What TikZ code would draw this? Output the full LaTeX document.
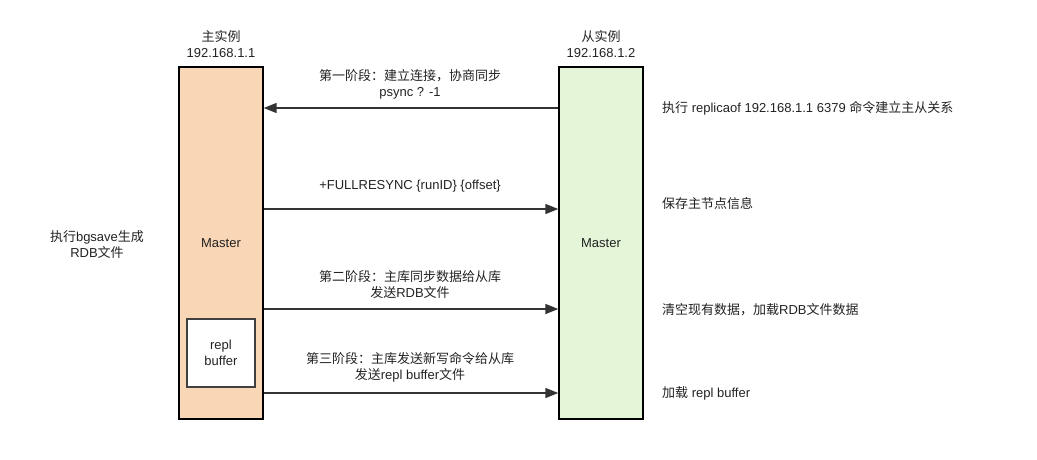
\documentclass[tikz,border=0pt]{standalone}
\usepackage{fontspec}
\setmainfont{Liberation Sans}
\newfontfamily\zh{Noto Sans CJK SC}
\usetikzlibrary{arrows.meta}
\definecolor{masterfill}{HTML}{F9D6B5}
\definecolor{slavefill}{HTML}{E4F5D8}
\definecolor{ink}{HTML}{222222}
\begin{document}
\begin{tikzpicture}[x=1pt, y=-1pt, font=\fontsize{13}{16}\selectfont, text=ink,
  inst node/.style={shape=rectangle, draw=black, line width=1.4pt, minimum width=84pt, minimum height=352pt, inner sep=0pt},
  buf node/.style={shape=rectangle, draw=black!75, line width=1.2pt, fill=white, minimum width=68pt, minimum height=68pt, align=center},
  msg/.style={-{Triangle[length=13pt,width=10pt]}, draw=black!80, line width=1.6pt},
  note/.style={align=center, inner sep=0pt},
  side/.style={anchor=west, inner sep=0pt}]
\useasboundingbox (0,0) rectangle (1037,459);
\node[inst node, fill=masterfill] (M) at (221,243) {Master};
\node[inst node, fill=slavefill] (S) at (601,243) {Master};
\node[buf node] (B) at (221,353) {repl\\buffer};
\node[note] (MT) at (221,44.5) {{\zh 主实例}\\192.168.1.1};
\node[note] (ST) at (601,44.5) {{\zh 从实例}\\192.168.1.2};
% messages
\draw[msg] (S.west |- {0,108}) -- (M.east |- {0,108});
\draw[msg] (M.east |- {0,209}) -- (S.west |- {0,209});
\draw[msg] (M.east |- {0,309}) -- (S.west |- {0,309});
\draw[msg] (M.east |- {0,393}) -- (S.west |- {0,393});
\node[note] (L1) at (410,84.5) {{\zh 第一阶段：建立连接，协商同步}\\psync ? -1};
\node[note] (L2) at (410,186) {+FULLRESYNC \{runID\} \{offset\}};
\node[note] (L3) at (410,285) {{\zh 第二阶段：主库同步数据给从库}\\{\zh 发送}RDB{\zh 文件}};
\node[note] (L4) at (410,367) {{\zh 第三阶段：主库发送新写命令给从库}\\{\zh 发送}repl buffer{\zh 文件}};
% side notes
\node[note] (N0) at (97,244.5) {{\zh 执行}bgsave{\zh 生成}\\RDB{\zh 文件}};
\node[side] (N1) at (662,108) {{\zh 执行} replicaof 192.168.1.1 6379 {\zh 命令建立主从关系}};
\node[side] (N2) at (662,204) {{\zh 保存主节点信息}};
\node[side] (N3) at (662,310) {{\zh 清空现有数据，加载}RDB{\zh 文件数据}};
\node[side] (N4) at (662,393) {{\zh 加载} repl buffer};
\end{tikzpicture}
\end{document}
